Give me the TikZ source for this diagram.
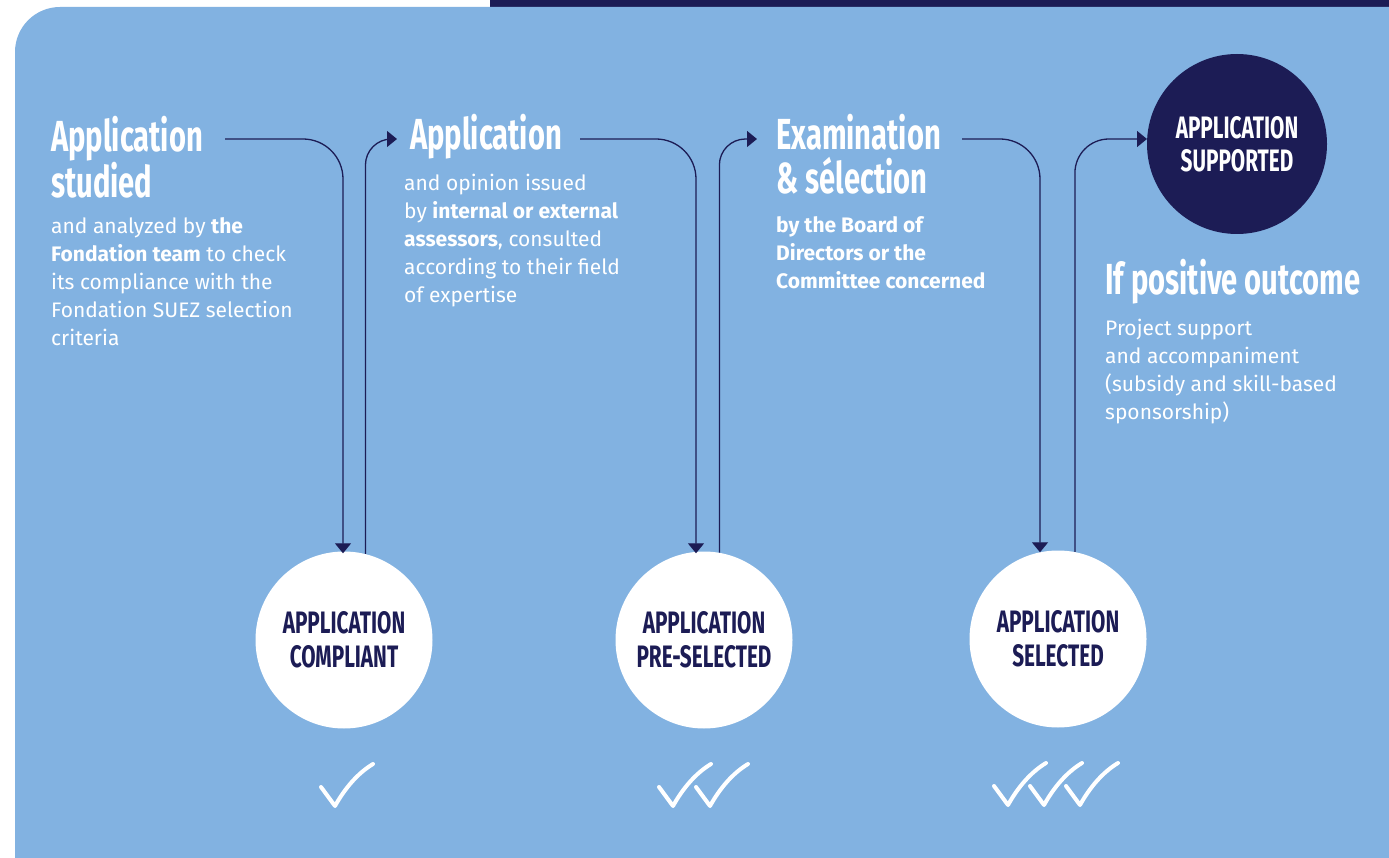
\documentclass[tikz,border=0pt]{standalone}
\usepackage{fontspec}
\setmainfont{Fira Sans}
\newfontfamily\condfont[FakeStretch=0.67]{Fira Sans}
\usetikzlibrary{arrows.meta}
\definecolor{lb}{HTML}{82B2E1}
\definecolor{navy}{HTML}{1C1C55}
\tikzset{
  head/.style={anchor=north west,inner sep=0pt,text=white,align=left,font=\condfont\bfseries\fontsize{43.5}{44}\selectfont},
  body/.style={anchor=north west,inner sep=0pt,text=white,align=left,font=\fontsize{21}{28}\selectfont},
  wcirc/.style={circle,fill=white,minimum size=177pt,inner sep=0pt,text=navy,align=center,font=\condfont\bfseries\fontsize{31}{34}\selectfont},
  ncirc/.style={circle,fill=navy,minimum size=180pt,inner sep=0pt,text=white,align=center,font=\condfont\bfseries\fontsize{31}{33}\selectfont},
  conn/.style={draw=navy,line width=1.3pt,-{Triangle[width=16pt,length=10pt]}},
  chk/.pic={\draw[white,line width=4pt,line cap=round,line join=round] (-14,-19) -- (0,0) .. controls (10,-18) and (23,-33) .. (38,-42);}
}
\begin{document}
\begin{tikzpicture}[x=1pt,y=-1pt]
\useasboundingbox (0,0) rectangle (1389,858);
\fill[white] (0,0) rectangle (1389,858);
\fill[navy] (490,0) rectangle (1389,8);
\fill[lb] (15,858) [rounded corners=45] -- (15,7) [sharp corners] -- (1389,7) -- (1389,858) -- cycle;

% headings and bodies
\node[head] (h1) at (51,116) {Application\\studied};
\node[body] (b1) at (51,217) {and analyzed by \textbf{the}\\\textbf{Fondation team} to check\\its compliance with the\\Fondation SUEZ selection\\criteria};
\node[head] (h2) at (410,114) {Application};
\node[body] (b2) at (404,174) {and opinion issued\\by \textbf{internal or external}\\\textbf{assessors}, consulted\\according to their field\\of expertise};
\node[head] (h3) at (776,114) {Examination\\\&\,sélection};
\node[body,font=\bfseries\fontsize{21}{28}\selectfont] (b3) at (776,216) {by the Board of\\Directors or the\\Committee concerned};
\node[head] (h4) at (1105,259) {If positive outcome};
\node[body] (b4) at (1105,319) {Project support\\and accompaniment\\(subsidy and skill-based\\sponsorship)};

% circles
\node[ncirc] (c4) at (1237,144) {APPLICATION\\SUPPORTED};
\node[wcirc] (c1) at (344,640) {APPLICATION\\COMPLIANT};
\node[wcirc] (c2) at (704,640) {APPLICATION\\PRE-SELECTED};
\node[wcirc] (c3) at (1058,639) {APPLICATION\\SELECTED};

% connector endpoints
\coordinate (s1) at (225,139);
\coordinate (s2) at (580,139);
\coordinate (s3) at (962,139);
\coordinate (e1) at (397,139);
\coordinate (e2) at (757,139);
\coordinate (e3) at (1147,139);

\draw[conn,rounded corners=40] (s1) -| ([xshift=-1pt,yshift=-2pt]c1.north);
\draw[conn,rounded corners=40] (s2) -| ([xshift=-8pt,yshift=-2pt]c2.north);
\draw[conn,rounded corners=40] (s3) -| ([xshift=-18pt,yshift=-2pt]c3.north);
\draw[conn,rounded corners=26] (c1.76) |- (e1);
\draw[conn,rounded corners=26] (c2.80) |- (e2);
\draw[conn,rounded corners=34] (c3.79) |- (e3);

% check marks
\pic at (335,806) {chk};
\pic at (673,806) {chk};
\pic at (710,806) {chk};
\pic at (1008,805) {chk};
\pic at (1044,805) {chk};
\pic at (1080,805) {chk};
\end{tikzpicture}
\end{document}
